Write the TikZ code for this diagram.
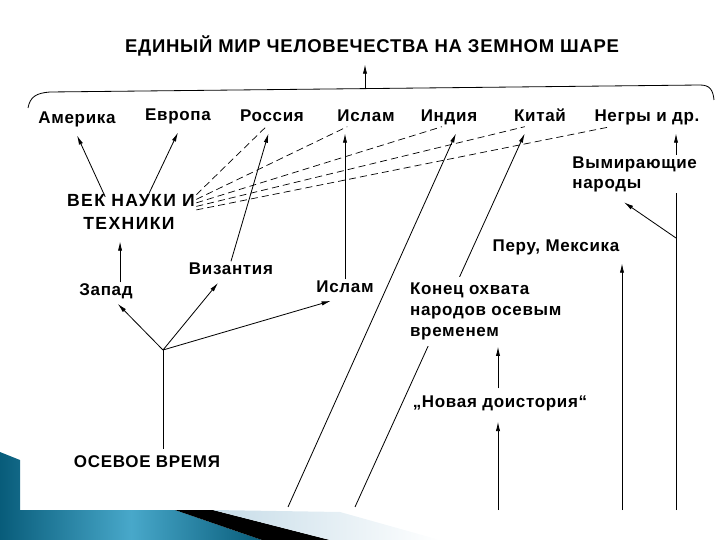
\documentclass[tikz,border=0pt]{standalone}
\usepackage{fontspec}
\setmainfont{Liberation Sans}
\newfontfamily\lab[LetterSpace=4]{Liberation Sans}
\newfontfamily\labw[LetterSpace=8]{Liberation Sans}
\usetikzlibrary{arrows.meta, positioning, backgrounds}

\definecolor{tealdk}{RGB}{8,92,122}
\definecolor{teallt}{RGB}{72,168,202}
\definecolor{paleblue}{RGB}{198,220,232}

\begin{document}
\begin{tikzpicture}[x=0.03cm, y=-0.03cm]
	\tikzset{lbl/.style={font=\lab\bfseries\fontsize{14.5}{17}\selectfont, text height=.75em, text depth=.25em, inner sep=1pt, anchor=base},
		top/.style={lbl, inner ysep=7pt},
		wide/.style={font=\labw\bfseries\fontsize{15}{17}\selectfont},
		blk/.style={font=\lab\bfseries\fontsize{14.5}{17}\selectfont, align=left, anchor=north west, inner sep=1pt},
		arr/.style={-{Latex[length=8pt, width=3.6pt]}, line width=.7pt},
		dsh/.style={line width=.6pt, dash pattern=on 6pt off 3.5pt}}

	\useasboundingbox (0,0) rectangle (720,540);

	% world and the peoples
	\node[top, font=\lab\bfseries\fontsize{15.8}{18}\selectfont] (world) at (372,53) {ЕДИНЫЙ МИР ЧЕЛОВЕЧЕСТВА НА ЗЕМНОМ ШАРЕ};
	\node[top] (amer) at (77,124) {Америка};
	\node[top] (evropa) at (178,121) {Европа};
	\node[top] (rossia) at (272,122) {Россия};
	\node[top] (islam1) at (366,122) {Ислам};
	\node[top] (india) at (449,122) {Индия};
	\node[top] (kitai) at (540,122) {Китай};
	\node[top] (negry) at (647,122) {Негры и др.};

	\node[lbl, wide] (vek) at (131,207) {ВЕК НАУКИ И};
	\node[top, wide] (tech) at (129,230) {ТЕХНИКИ};
	\node[blk] (vym) at (571,155) {Вымирающие\\народы};
	\node[top] (peru) at (556,252) {Перу, Мексика};

	\node[lbl, inner ysep=4pt] (zapad) at (106,296) {Запад};
	\node[lbl, inner ysep=4pt] (viz) at (231,275) {Византия};
	\node[lbl, inner ysep=4pt] (islam2) at (345,293) {Ислам};
	\node[blk, inner sep=5pt, font=\lab\bfseries\fontsize{14.5}{18}\selectfont, fill=white] (konec) at (404,277) {Конец охвата\\народов осевым\\временем};
	\node[lbl, inner ysep=9pt] (novaya) at (500,408) {„Новая доистория“};
	\node[lbl, inner ysep=8pt] (osev) at (147,467) {ОСЕВОЕ ВРЕМЯ};

	\coordinate (hub) at (163,350);
	\coordinate (mid) at (365,89);
	\coordinate (b1) at (288,507);
	\coordinate (b2) at (355,507);
	\coordinate (b3) at (498,510);
	\coordinate (b4) at (622,510);
	\coordinate (b5) at (676,510);
	\coordinate (br) at (676,238);
	\coordinate (zu) at ([xshift=12pt]zapad.north);

	% brace under the world
	\draw[line width=.7pt] (28,108) .. controls (30,97) and (36,93) .. (50,92) -- (700,85) .. controls (710,85) and (713,90) .. (714,100);

	\begin{scope}[on background layer]
		\draw[arr] (mid) -- (mid |- world.south);
		\draw[arr] ([xshift=-22pt]vek.north) -- (amer.south);
		\draw[arr] ([xshift=14pt]vek.north) -- (evropa.south);
		\draw[arr] (viz.north) -- ([xshift=-3pt]rossia.south);
		\draw[arr] (islam2.north) -- (islam2.north |- islam1.south);
		\draw[arr] (b1) -- ([xshift=6pt]india.south);
		\draw[arr] (b2) -- ([xshift=-13pt]kitai.south);
		\draw[arr] (b5 |- vym.north) -- (b5 |- negry.south);
		\draw[line width=.7pt] (b5) -- (b5 |- vym.south);
		\draw[arr] (br) -- ([xshift=-9pt, yshift=-8pt]vym.south);
		\draw[arr] (b4) -- (b4 |- peru.south);
		\draw[arr] (b3) -- (b3 |- novaya.south);
		\draw[arr] (b3 |- novaya.north) -- (b3 |- konec.south);
		\draw[arr] (zu) -- (zu |- tech.south);
		\draw[line width=.7pt] (hub |- osev.north) -- (hub);
		\draw[arr] (hub) -- ([xshift=10pt]zapad.south);
		\draw[arr] (hub) -- ([xshift=-11pt]viz.south);
		\draw[arr] (hub) -- ([xshift=-12pt]islam2.south);

		% science age reaches everybody
		\draw[dsh] ([yshift=8pt]vek.east) -- ([xshift=-5pt, yshift=-4pt]rossia.base);
		\draw[dsh] ([yshift=4pt]vek.east) -- ([xshift=-16pt, yshift=-4pt]islam1.base);
		\draw[dsh] ([yshift=1pt]vek.east) -- ([xshift=-6pt, yshift=-4pt]india.base);
		\draw[dsh] ([yshift=-2pt]vek.east) -- ([xshift=-13pt, yshift=-4pt]kitai.base);
		\draw[dsh] ([yshift=-5pt]vek.east) -- ([xshift=-31pt, yshift=-4pt]negry.base);
	\end{scope}

	% slide corner
	\path[left color=tealdk, right color=tealdk, middle color=teallt] (0,452) -- (20,460) -- (20,510) -- (175,510) -- (262,540) -- (0,540) -- cycle;
	\fill[black] (175,510) -- (213,510) -- (330,540) -- (262,540) -- cycle;
	\path[left color=paleblue, right color=white] (213,510) -- (340,512) -- (440,540) -- (330,540) -- cycle;
\end{tikzpicture}
\end{document}
